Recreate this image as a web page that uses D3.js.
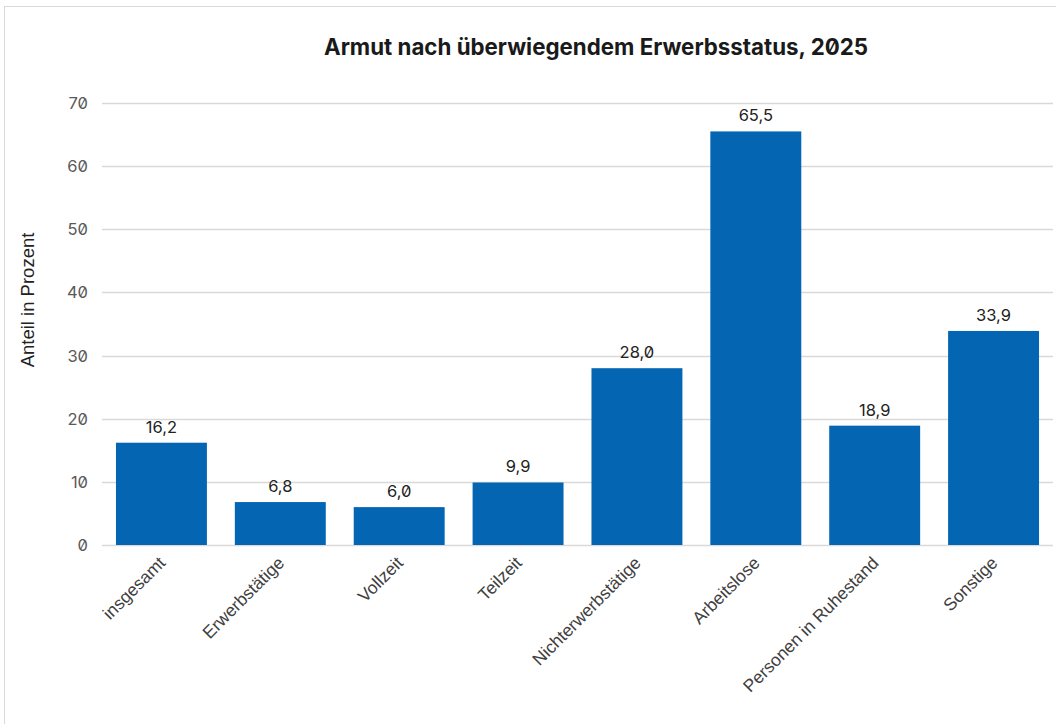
<!DOCTYPE html>
<html>
<head>
<meta charset="utf-8">
<script src="https://cdn.jsdelivr.net/npm/d3@7"></script>
<style>
  body { margin: 0; background: #fff; }
  svg { display: block; }
  .num { font-feature-settings: "zero" 1; }
</style>
</head>
<body>
<div id="svg-container"></div>
<script>
// Chart data
const categories = ["insgesamt", "Erwerbstätige", "Vollzeit", "Teilzeit", "Nichterwerbstätige", "Arbeitslose", "Personen in Ruhestand", "Sonstige"]
const values = [16.2, 6.8, 6.0, 9.9, 28.0, 65.5, 18.9, 33.9]
const yTicks = [0, 10, 20, 30, 40, 50, 60, 70]
const title = "Armut nach überwiegendem Erwerbsstatus, 2025"
const yTitle = "Anteil in Prozent"

const width = 1056
const height = 724
const plot = { left: 102, right: 1053, top: 103, bottom: 545 }

const svg = d3.select("#svg-container")
    .append("svg")
    .attr("width", width)
    .attr("height", height)

// outer frame
svg.append("rect")
    .attr("x", 4.5)
    .attr("y", 6.5)
    .attr("width", width + 10)
    .attr("height", height + 10)
    .attr("fill", "none")
    .attr("stroke", "#d9d9d9")

const x = d3.scaleBand()
    .domain(categories)
    .range([plot.left, plot.right])
    .paddingInner(0.235)
    .paddingOuter(0.1175)

const y = d3.scaleLinear()
    .domain([0, 70])
    .range([plot.bottom, plot.top])

const fmt = (v) => v.toFixed(1).replace(".", ",")

// gridlines
svg.append("g")
    .selectAll("line")
    .data(yTicks)
    .enter()
    .append("line")
    .attr("x1", plot.left)
    .attr("x2", plot.right)
    .attr("y1", (d) => Math.round(y(d)) + 0.5)
    .attr("y2", (d) => Math.round(y(d)) + 0.5)
    .attr("stroke", "#d9d9d9")
    .attr("stroke-width", 1.5)

// y tick labels
svg.append("g")
    .selectAll("text")
    .data(yTicks)
    .enter()
    .append("text")
    .attr("class", "num")
    .attr("x", 88)
    .attr("y", (d) => y(d) + 6)
    .attr("text-anchor", "end")
    .attr("font-family", "Inter, 'Liberation Sans', sans-serif")
    .attr("font-size", "16.5px")
    .attr("fill", "#595959")
    .text((d) => d)

// bars
svg.append("g")
    .selectAll("rect")
    .data(values)
    .enter()
    .append("rect")
    .attr("x", (d, i) => x(categories[i]))
    .attr("y", (d) => y(d))
    .attr("width", x.bandwidth())
    .attr("height", (d) => y(0) - y(d))
    .attr("fill", "#0466b3")

// value labels
svg.append("g")
    .selectAll("text")
    .data(values)
    .enter()
    .append("text")
    .attr("class", "num")
    .attr("x", (d, i) => x(categories[i]) + x.bandwidth() / 2)
    .attr("y", (d) => y(d) - 10)
    .attr("text-anchor", "middle")
    .attr("font-family", "Inter, 'Liberation Sans', sans-serif")
    .attr("font-size", "16.5px")
    .attr("fill", "#222")
    .text((d) => fmt(d))

// x labels
svg.append("g")
    .selectAll("text")
    .data(categories)
    .enter()
    .append("text")
    .attr("transform", (d) => "translate(" + (x(d) + x.bandwidth() / 2 + 5) + "," + 564 + ") rotate(-45)")
    .attr("text-anchor", "end")
    .attr("font-family", "'Liberation Sans', Arial, sans-serif")
    .attr("font-size", "17.5px")
    .attr("fill", "#404040")
    .text((d) => d)

// y title
svg.append("text")
    .attr("transform", "translate(34,300) rotate(-90)")
    .attr("text-anchor", "middle")
    .attr("font-family", "'Liberation Sans', Arial, sans-serif")
    .attr("font-size", "18.5px")
    .attr("fill", "#222")
    .text(yTitle)

// title
svg.append("text")
    .attr("class", "num")
    .attr("x", 596)
    .attr("y", 55)
    .attr("text-anchor", "middle")
    .attr("font-family", "Inter, 'Liberation Sans', sans-serif")
    .attr("font-weight", "bold")
    .attr("font-size", "22.3px")
    .attr("fill", "#1a1a1a")
    .text(title)
</script>
</body>
</html>
